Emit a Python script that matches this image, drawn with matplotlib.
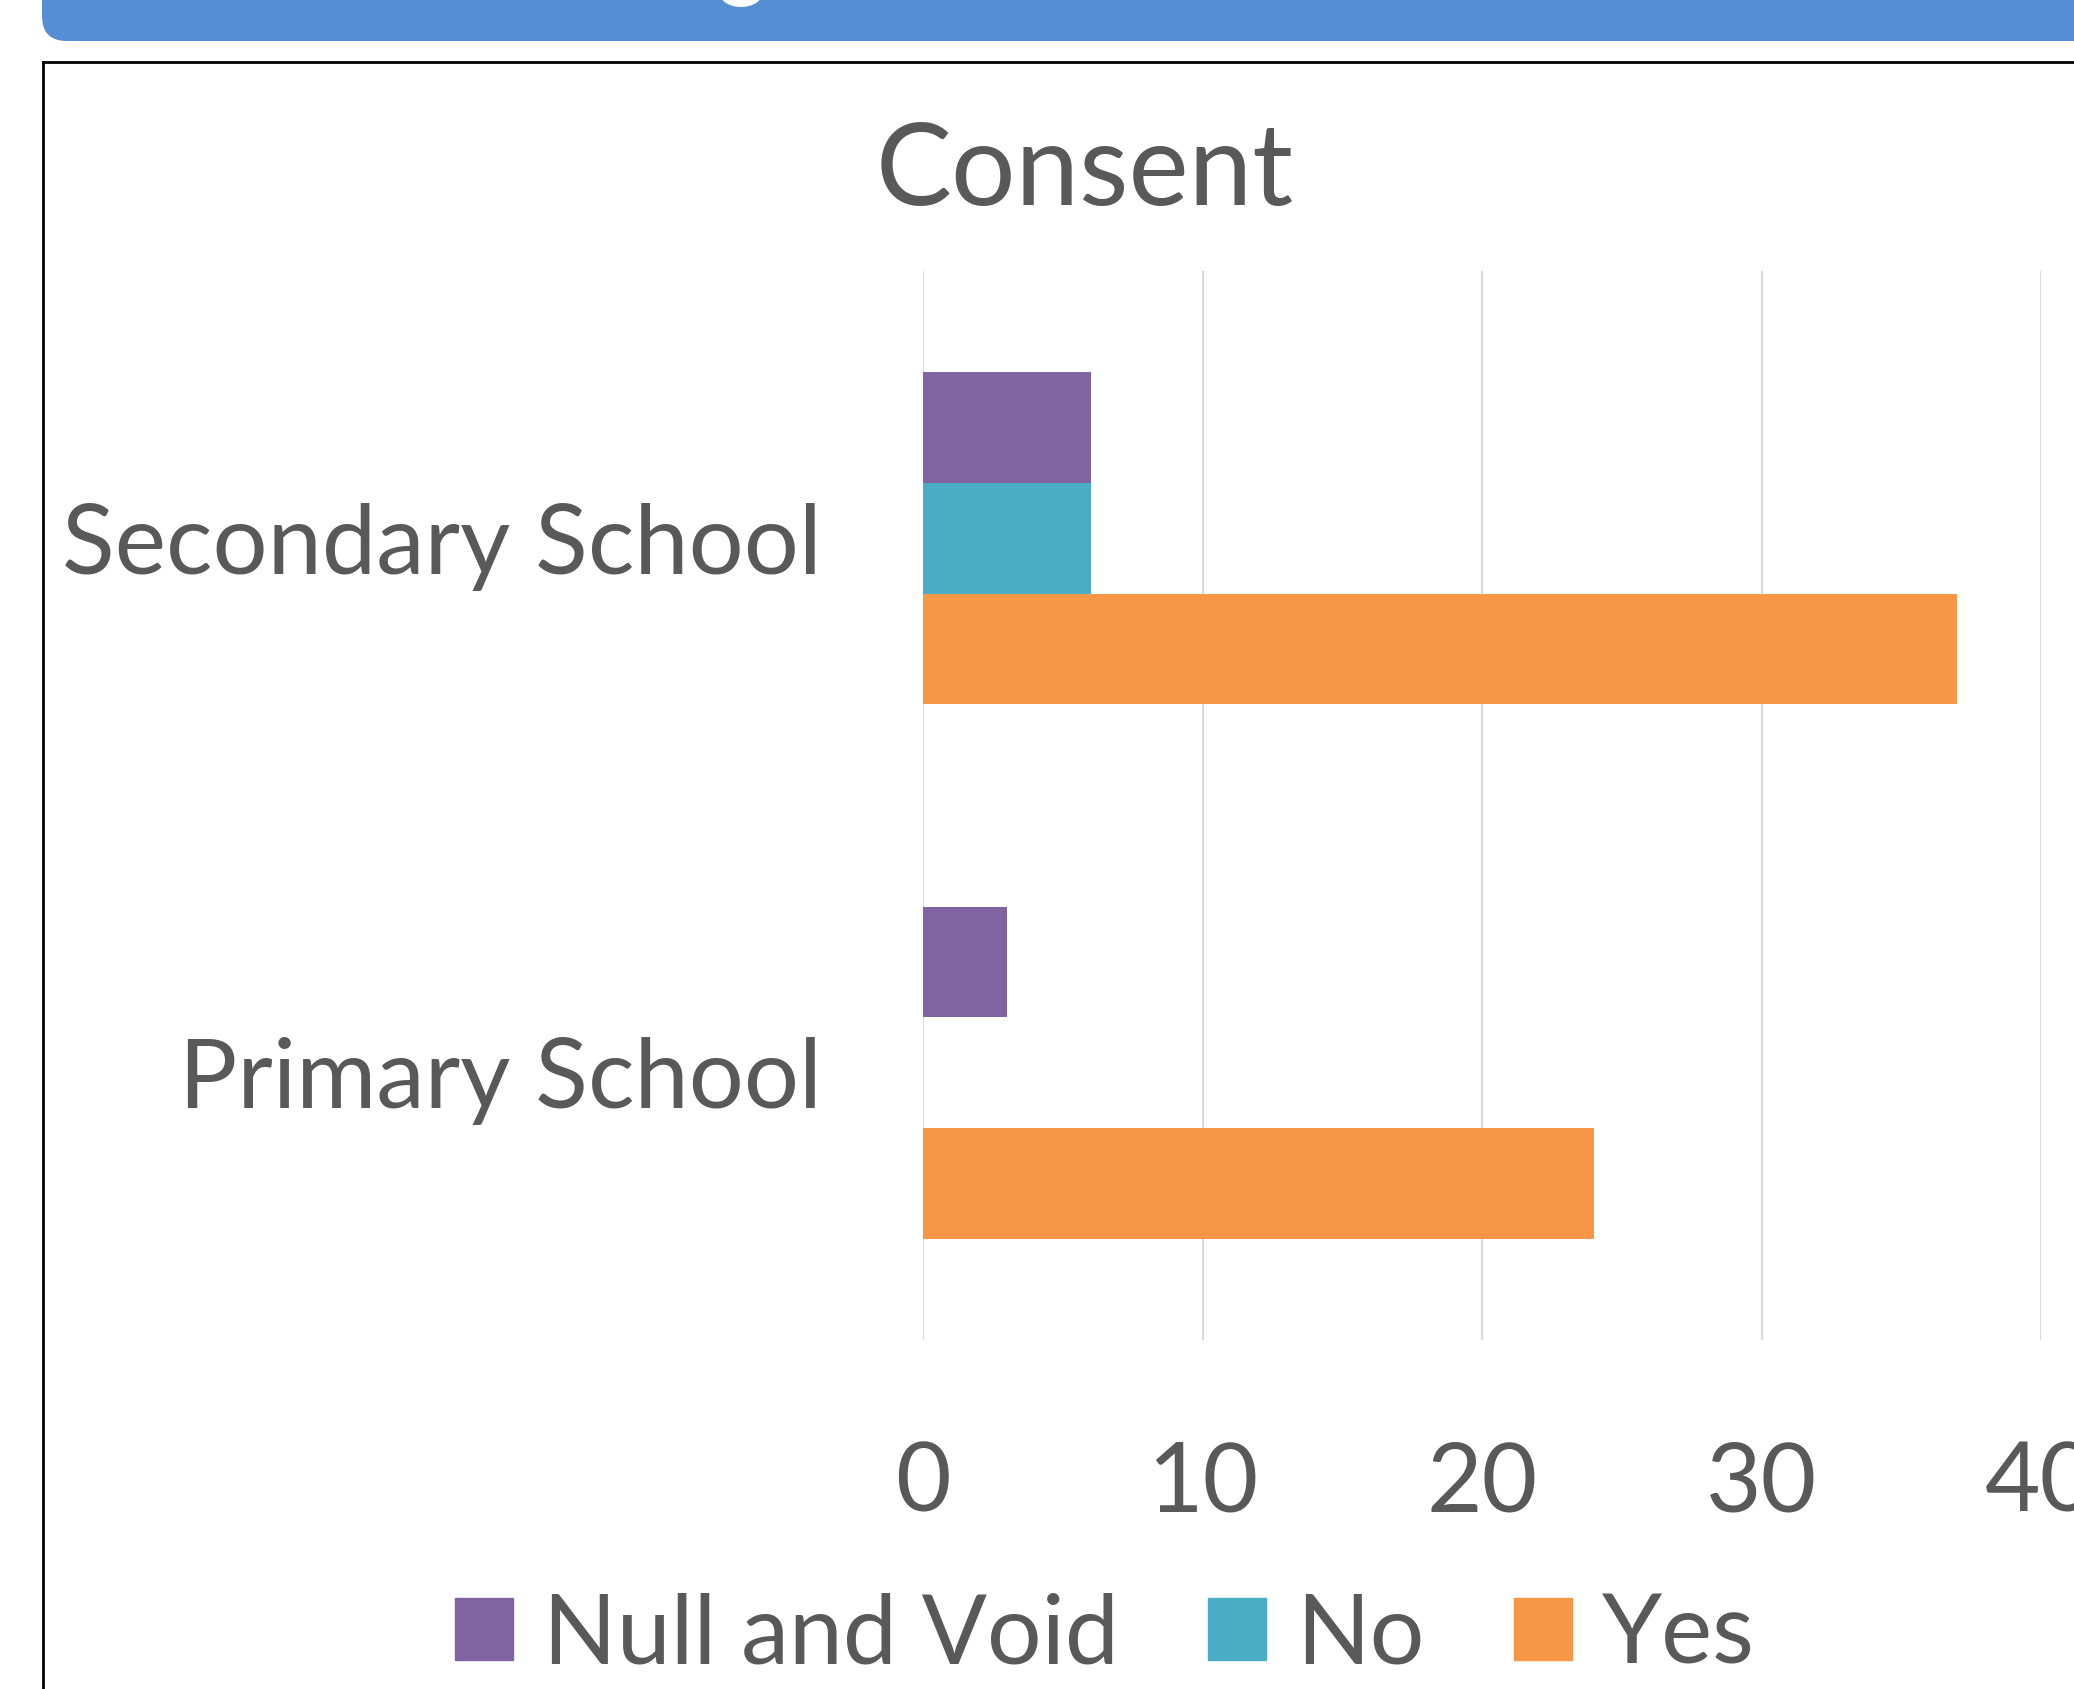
import numpy as np
import matplotlib.pyplot as plt
from matplotlib.patches import FancyBboxPatch, Ellipse, Patch
from matplotlib.lines import Line2D

categories = ["Primary School", "Secondary School"]
series = ["Null and Void", "No", "Yes"]
null_void = [3, 6]
no = [0, 6]
yes = [24, 37]
colors = ["#8064a2", "#4bacc6", "#f79646"]
xticks = [0, 10, 20, 30, 40]

W, H = 2074, 1689
txt = "#595959"
plt.rcParams['font.family'] = ['Lato', 'DejaVu Sans']

fig = plt.figure(figsize=(W / 100, H / 100), dpi=100)


def px(x, y):
    # pixel (from top-left) -> figure fraction
    return x / W, 1 - y / H


# blue banner at top with rounded corner
banner = FancyBboxPatch(px(42, 41), (W + 40 - 42) / W, 80 / H,
                        boxstyle="round,pad=0,rounding_size=0.012",
                        transform=fig.transFigure, fc="#558ed5", ec="none",
                        mutation_aspect=W / H)
fig.patches.append(banner)
fig.patches.append(Ellipse(px(741, -8), 44 / W, 30 / H, transform=fig.transFigure,
                           fc="white", ec="none"))

# chart frame (left and top edges visible)
fig.add_artist(Line2D([43 / W, 43 / W], [1 - 62 / H, 0], transform=fig.transFigure,
                      color="black", lw=2))
fig.add_artist(Line2D([43 / W, 1], [1 - 62 / H, 1 - 62 / H], transform=fig.transFigure,
                      color="black", lw=2))

left, right = 923 / W, 2041 / W
top, bottom = 1 - 271 / H, 1 - 1340 / H
ax = fig.add_axes([left, bottom, right - left, top - bottom])

y = np.arange(len(categories))
h = 0.207
ax.barh(y + h, null_void, height=h, color=colors[0], label=series[0], zorder=3)
ax.barh(y, no, height=h, color=colors[1], label=series[1], zorder=3)
ax.barh(y - h, yes, height=h, color=colors[2], label=series[2], zorder=3)

ax.set_xlim(0, 40)
ax.set_ylim(-0.5, 1.5)
ax.set_xticks(xticks)
ax.set_yticks(y)
ax.set_yticklabels(categories)
ax.grid(axis="x", color="#d9d9d9", lw=1.5, zorder=0)
for s in ax.spines.values():
    s.set_visible(False)
ax.tick_params(axis="both", length=0, colors=txt, labelsize=70)
ax.tick_params(axis="y", pad=73)
ax.tick_params(axis="x", pad=72, labelsize=69)

fig.text(1085 / W, 1 - 173 / H, "Consent", ha="center", va="center",
         fontsize=82, color=txt)

handles = [Patch(color=c) for c in colors]
fig.legend(handles, series, loc="center", bbox_to_anchor=(1105 / W, 1 - 1636 / H),
           ncol=3, frameon=False, fontsize=69.5, labelcolor=txt,
           handlelength=0.6, handleheight=0.6, handletextpad=0.31, columnspacing=0.93)

fig.savefig("out.png", dpi=100)
